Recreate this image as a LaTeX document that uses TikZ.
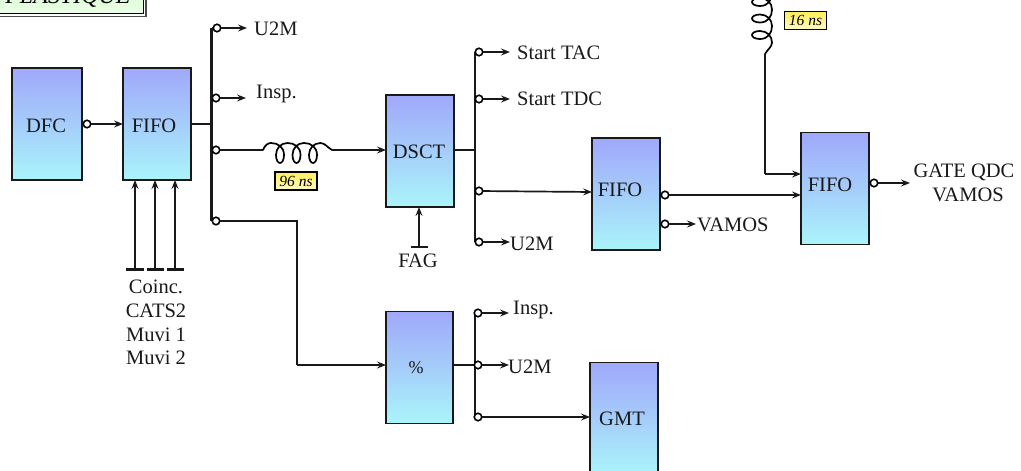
\documentclass[tikz,border=0pt]{standalone}
\usepackage{fontspec}
\setmainfont{Liberation Serif}
\usetikzlibrary{arrows.meta,positioning,calc}
\tikzset{
  box/.style={draw=black!90,line width=1.9pt,outer sep=0pt,inner sep=0pt,minimum width=68pt,minimum height=112pt,
    top color=boxtop,bottom color=boxbot,middle color=boxmid},
  txt/.style={inner sep=0pt,font=\fontsize{20.5}{24}\selectfont,text=black!90},
  port/.style={circle,draw=black,line width=1.6pt,fill=white,minimum size=7.5pt,inner sep=0pt,outer sep=0pt},
  bus/.style={line width=2.3pt,black!90},
  wire/.style={line width=1.8pt,black!90},
  sig/.style={line width=1.7pt,black!90,-{Stealth[length=9pt,width=7pt,inset=3.5pt]}},
  inp/.style={line width=2.3pt,black!90,-{Stealth[length=9pt,width=7pt,inset=3.5pt]}},
  tbar/.style={line width=2.3pt,black!90},
  delay/.style={draw=black,line width=1.6pt,outer sep=0pt,inner sep=0pt,minimum width=42pt,minimum height=18pt,
    top color=yeltop,bottom color=yelbot,font=\fontsize{15.5}{18}\selectfont\itshape},
  coilline/.style={line width=1.7pt,black,line cap=round},
  coilpic/.pic={
    \draw[coilline] (0,0) .. controls (2,-5) and (5,-7) .. (8,-7);
    \foreach \o in {0,16.5,33}{
      \draw[coilline] ({\o+8},-7) .. controls ({\o+15},-7) and ({\o+21},-3) .. ({\o+21},5)
        .. controls ({\o+21},10) and ({\o+19},13) .. ({\o+17},13)
        .. controls ({\o+15},13) and ({\o+13},10) .. ({\o+13},5)
        .. controls ({\o+13},-2) and ({\o+18},-7) .. ({\o+24.5},-7);
    }
    \draw[coilline] (57.5,-7) .. controls (62,-7) and (65,-2) .. (69,0);
  },
}
\definecolor{boxtop}{RGB}{160,168,250}
\definecolor{boxmid}{RGB}{165,205,250}
\definecolor{boxbot}{RGB}{170,245,250}
\definecolor{yeltop}{RGB}{255,238,90}
\definecolor{yelbot}{RGB}{255,250,200}
\definecolor{titletop}{RGB}{200,250,190}
\definecolor{titlebot}{RGB}{235,255,230}
\begin{document}
\begin{tikzpicture}[x=1pt,y=-1pt]
\useasboundingbox (0,0) rectangle (1021,471);
\clip (0,0) rectangle (1021,471);
% title
\node[draw=black!70,line width=1.2pt,fill=white,minimum width=186pt,minimum height=54pt,inner sep=0pt,outer sep=0pt] (titleo) at (53,-10.5) {};
\node[draw=black,line width=1.4pt,minimum width=181pt,minimum height=49pt,inner sep=0pt,outer sep=0pt,top color=titletop,bottom color=titlebot] (title) at (53,-11) {};
\node[anchor=base,inner sep=0pt,font=\fontsize{24}{26}\selectfont\itshape] (titlet) at (68,4) {PLASTIQUE};
% boxes
\node[box,minimum width=70pt] (dfc) at (47,124) {};
\node[txt] (dfct) at (46,126) {DFC};
\node[box] (fifoa) at (157,124) {};
\node[txt] (fifoat) at (154,126) {FIFO};
\node[box] (dsct) at (420,151) {};
\node[txt] (dsctt) at (419,152) {DSCT};
\node[box] (fifob) at (626,194) {};
\node[txt] (fifobt) at (620,190) {FIFO};
\node[box] (fifoc) at (835,188.5) {};
\node[txt] (fifoct) at (830,185) {FIFO};
\node[box,minimum width=67pt] (pct) at (419.5,367.5) {};
\node[txt,font=\fontsize{18}{22}\selectfont] (pctt) at (416,368) {\%};
\node[box] (gmt) at (624,418.5) {};
\node[txt] (gmtt) at (622,419) {GMT};
% first stage
\node[port] (pdfc) at (87,124) {};
\draw[sig] (pdfc) -- (pdfc -| fifoa.west);
\coordinate (busa) at (211.5,124);
\coordinate (busat) at (211.5,28);
\coordinate (busab) at (211.5,221);
\draw[wire] (busa -| fifoa.east) -- (busa);
\draw[bus] (busat) -- (busab);
\node[port] (pu) at (217,28) {};
\node[port] (pi) at (216,98) {};
\node[port] (pd) at (216,150) {};
\node[port] (pp) at (216,221) {};
\draw[wire] (busat) -- (pu);
\draw[wire] (211.5,98) -- (pi);
\draw[wire] (211.5,150) -- (pd);
\draw[wire] (busab) -- (pp);
\node[txt,anchor=west] (tu) at (254,29) {U2M};
\node[txt,anchor=west] (ti) at (256,94) {Insp.};
\draw[sig] (pu) -- (247,28);
\draw[sig] (pi) -- (246,98);
% coil 96
\coordinate (ca) at (263,150);
\coordinate (cb) at (332,150);
\draw[wire] (pd) -- (ca);
\pic at (ca) {coilpic};
\draw[sig] (cb) -- (cb -| dsct.west);
\node[delay] (da) at (296,181) {96 ns};
% inputs
\coordinate (ia) at (135,269.5);
\coordinate (ib) at (155,269.5);
\coordinate (ic) at (175,269.5);
\draw[inp] (ia) -- (ia |- fifoa.south);
\draw[inp] (ib) -- (ib |- fifoa.south);
\draw[inp] (ic) -- (ic |- fifoa.south);
\draw[tbar] (126,269.5) -- (144,269.5);
\draw[tbar] (146.5,269.5) -- (164,269.5);
\draw[tbar] (166.5,269.5) -- (184,269.5);
\node[txt] (tc1) at (156,287) {Coinc.};
\node[txt] (tc2) at (156,311) {CATS2};
\node[txt] (tc3) at (156,335) {Muvi 1};
\node[txt] (tc4) at (156,358) {Muvi 2};
% to %
\coordinate (ppa) at (297,221);
\coordinate (ppb) at (297,365);
\draw[wire,line join=miter] (pp) -- (ppa) -- (ppb);
\draw[sig] (ppb) -- (ppb -| pct.west);
% DSCT
\coordinate (busb) at (475,150);
\coordinate (busbt) at (475,52);
\coordinate (busbb) at (475,242);
\draw[wire] (busb -| dsct.east) -- (busb);
\draw[bus] (busbt) -- (busbb);
\node[port] (qa) at (479,52) {};
\node[port] (qb) at (479,99) {};
\node[port] (qc) at (479,191) {};
\node[port] (qd) at (479,242) {};
\coordinate (qce) at (592,192);
\draw[sig] (qa) -- (510,52);
\draw[sig] (qb) -- (510,99);
\draw[sig] (qc) -- (qce);
\draw[sig] (qd) -- (510,242);
\node[txt,anchor=west] (tsa) at (517,53) {Start TAC};
\node[txt,anchor=west] (tsb) at (517,99) {Start TDC};
\node[txt,anchor=west] (tud) at (510,244) {U2M};
\coordinate (fag) at (419,247);
\draw[inp] (fag) -- (fag |- dsct.south);
\draw[tbar] (411,247) -- (428,247);
\node[txt] (tfag) at (418,261) {FAG};
% FIFO 2
\node[port] (ra) at (665,195) {};
\node[port] (rb) at (665,224) {};
\draw[sig] (ra) -- (ra -| fifoc.west);
\draw[sig] (rb) -- (696,224);
\node[txt,anchor=west] (tv) at (697,225) {VAMOS};
% FIFO 3
\coordinate (cc) at (765,-15);
\coordinate (cd) at (765,54);
\coordinate (ce) at (765,174);
\pic[rotate=-90] at (cc) {coilpic};
\draw[wire,line join=miter] (cd) -- (ce);
\draw[sig] (ce) -- (ce -| fifoc.west);
\node[delay] (db) at (805.5,20.5) {16 ns};
\node[port] (sa) at (874,183) {};
\draw[sig] (sa) -- (910,183);
\node[txt] (tg1) at (964,172) {GATE QDC};
\node[txt] (tg2) at (968,195) {VAMOS};
% % outputs
\coordinate (busc) at (475,365);
\coordinate (busct) at (475,313);
\coordinate (buscb) at (475,417);
\draw[wire] (busc -| pct.east) -- (busc);
\draw[bus] (busct) -- (buscb);
\node[port] (ua) at (478,313) {};
\node[port] (ub) at (478,365) {};
\node[port] (uc) at (478,417) {};
\draw[sig] (ua) -- (509,313);
\draw[sig] (ub) -- (509,365);
\draw[sig] (uc) -- (uc -| gmt.west);
\node[txt,anchor=west] (tib) at (513,310) {Insp.};
\node[txt,anchor=west] (tuc) at (508,367) {U2M};
\end{tikzpicture}
\end{document}
